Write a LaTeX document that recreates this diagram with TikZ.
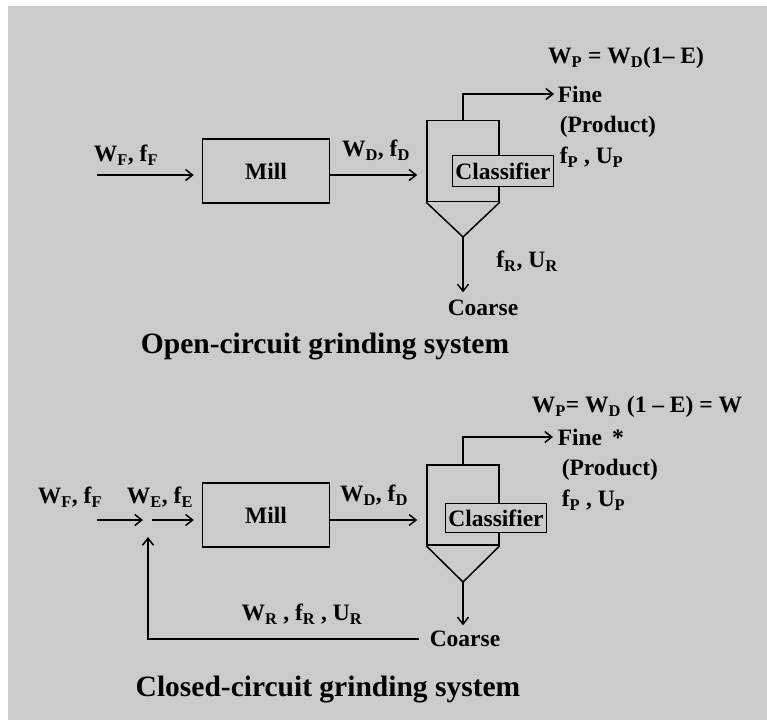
\documentclass[tikz,border=0pt]{standalone}
\usepackage{fontspec}
\setmainfont{Liberation Serif}
\usetikzlibrary{arrows.meta,positioning,calc}
\definecolor{paper}{RGB}{203,203,203}
\newcommand{\low}[1]{\textsubscript{#1}}

\begin{document}
\begin{tikzpicture}[x=1pt,y=-1pt,line width=1.5pt,
  flow/.style={-{Straight Barb[length=7pt,width=11pt]}},
  box/.style={draw,minimum width=127pt,minimum height=64pt,inner sep=0pt},
  vessel/.style={draw,minimum width=72pt,minimum height=81pt,inner sep=0pt},
  lbl/.style={font=\bfseries\fontsize{23.5}{28}\selectfont,inner sep=1pt},
  tag/.style={draw,fill=paper,line width=1.2pt,inner xsep=3pt,minimum height=31pt},
  title/.style={font=\bfseries\fontsize{29.5}{34}\selectfont}]

% Define the page.
\fill[white] (0,0) rectangle (767,720);
\fill[paper] (8,6) rectangle (767,720);

% Open circuit.
\node[box,lbl] (millA) at (266,171) {Mill};
\node[vessel] (vesA) at (463,161) {};
\coordinate (apexA) at (463,237);
\draw (vesA.south west) -- (apexA) -- (vesA.south east);
\node[lbl,tag] (clsA) at (503,171) {Classifier};

\coordinate (inA) at (97,175);
\node[lbl] (feedA) at (126,155) {W\low{F}, f\low{F}};
\draw[flow,shorten >=8pt] (inA) -- (inA -| millA.west);
\draw[flow,shorten >=9pt] (millA.east |- inA) -- (vesA.west |- inA);
\node[lbl] (dischA) at (376,150) {W\low{D}, f\low{D}};

\node[lbl,anchor=west] (fineA) at (556,94) {Fine};
\node[lbl,anchor=west] (prodA) at (558,127) {(Product)};
\node[lbl,anchor=west] (pusA) at (558,157) {f\low{P} , U\low{P}};
\draw[flow,shorten >=2pt] (vesA.north) |- (fineA.west);
\node[lbl] (eqA) at (626,58) {W\low{P} = W\low{D}(1– E)};

\node[lbl] (coarseA) at (483,308) {Coarse};
\draw[flow,shorten >=6pt] (apexA) -- (apexA |- coarseA.north);
\node[lbl] (retA) at (527,261) {f\low{R}, U\low{R}};

\node[title] (nameA) at (325,347) {Open-circuit grinding system};

% Closed circuit.
\node[box,lbl] (millB) at (266,515) {Mill};
\node[vessel,minimum height=80pt] (vesB) at (463,505) {};
\coordinate (apexB) at (463,582);
\draw (vesB.south west) -- (apexB) -- (vesB.south east);
\node[lbl,tag,minimum height=29pt] (clsB) at (496,518) {Classifier};

\coordinate (inB) at (97,520);
\coordinate (mixB) at (148,520);
\node[lbl] (feedB) at (70,497) {W\low{F}, f\low{F}};
\node[lbl] (mixedB) at (160,497) {W\low{E}, f\low{E}};
\draw[flow,shorten >=5pt] (inB) -- (mixB);
\draw[flow,shorten <=4pt,shorten >=8pt] (mixB) -- (mixB -| millB.west);
\draw[flow,shorten >=9pt] (millB.east |- mixB) -- (vesB.west |- mixB);
\node[lbl] (dischB) at (374,495) {W\low{D}, f\low{D}};

\node[lbl,anchor=west] (fineB) at (556,437) {Fine\hspace{10pt}*};
\node[lbl,anchor=west] (prodB) at (560,470) {(Product)};
\node[lbl,anchor=west] (pusB) at (560,500) {f\low{P} , U\low{P}};
\draw[flow,shorten >=3pt] (vesB.north) |- (fineB.west);
\node[lbl] (eqB) at (637,407) {W\low{P}= W\low{D} (1 – E) = W};

\node[lbl] (coarseB) at (465,639) {Coarse};
\draw[flow,shorten >=4pt] (apexB) -- (apexB |- coarseB.north);
\draw[flow,shorten <=9pt,shorten >=17pt] (coarseB.west) -| (mixB);
\node[lbl] (recB) at (302,614) {W\low{R} , f\low{R} , U\low{R}};

\node[title] (nameB) at (328,690) {Closed-circuit grinding system};

\end{tikzpicture}
\end{document}
